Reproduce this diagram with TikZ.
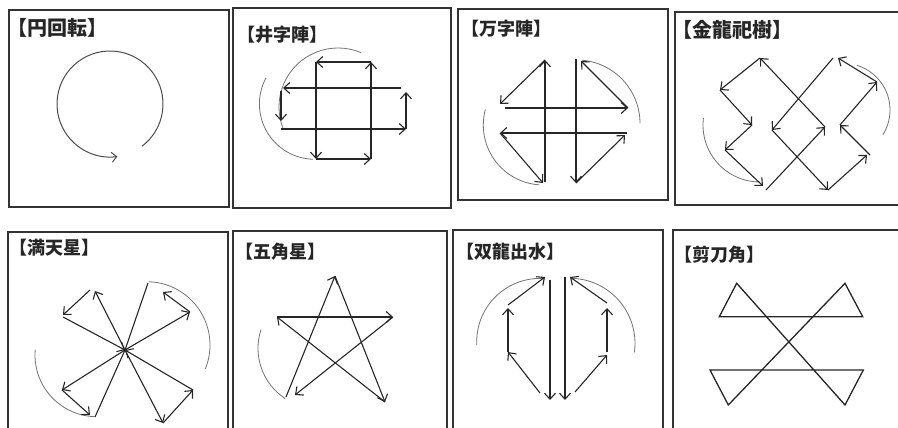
\documentclass[tikz,border=0pt]{standalone}
\usepackage{fontspec}
\newfontfamily\jpfont{Noto Sans CJK JP}
\usetikzlibrary{arrows.meta}

\begin{document}
\begin{tikzpicture}[
                x=1pt, y=-1pt,
                panel/.style={draw=black!80, line width=1.5pt},
                title/.style={anchor=west, inner sep=0pt, text=black!85,
                    font=\jpfont\bfseries\fontsize{18}{18}\selectfont},
                titlebig/.style={title,
                    font=\jpfont\bfseries\fontsize{20}{20}\selectfont},
                move/.style={line width=1.1pt, draw=black!85,
                    -{Straight Barb[length=6pt,width=11pt]}},
                turn/.style={draw=black!55, line width=0.8pt},
                cut/.style={line width=1.3pt, draw=black!85}
            ]

                \useasboundingbox (0,0) rectangle (898,428);
                \clip (0,0) rectangle (898,428);


                \draw[panel] (9,10) rectangle (229,207);
                \draw[panel] (233,8) rectangle (451,208);
                \draw[panel] (458,9) rectangle (668,200);
                \draw[panel] (900,12) -| (675,205) -- (900,205);

                \draw[panel] (8,432) |- (228,232) -- (228,432);
                \draw[panel] (233,432) |- (447,231) -- (447,432);
                \draw[panel] (453,432) |- (663,230) -- (663,432);
                \draw[panel] (673,432) |- (900,230);


                \node[titlebig] (yen) at (7,28) {【円回転】};
                \node[title] (igeta) at (237,35) {【井字陣】};
                \node[title] (manji) at (461,29) {【万字陣】};
                \node[titlebig] (kinryu) at (672,30) {【金龍祀樹】};
                \node[title] (mantenboshi) at (9,248) {【満天星】};
                \node[title] (gokaku) at (235,252) {【五角星】};
                \node[title] (soryu) at (456,252) {【双龍出水】};
                \node[title] (sento) at (674,255) {【剪刀角】};


                \draw[turn, draw=black!70, line width=1pt,
                    -{Straight Barb[length=5pt,width=10pt]}]
                    (110,104) ++(53:53) arc[start angle=53, end angle=-278, radius=53];


                \coordinate (a1) at (371,62);
                \coordinate (a2) at (316,62);
                \coordinate (a3) at (316,159);
                \coordinate (a4) at (371,159);
                \coordinate (b1) at (401,88);
                \coordinate (b2) at (283,88);
                \coordinate (b3) at (281,91);
                \coordinate (b4) at (281,121);
                \coordinate (b5) at (281,129);
                \coordinate (b6) at (406,129);
                \coordinate (b7) at (406,92);

                \draw[turn] (338,107) ++(-67:59) arc[start angle=-67, end angle=-201, radius=59];
                \draw[turn] (314.7,104) ++(-152:55.3) arc[start angle=-152, end angle=-268, radius=55.3];

                \draw[move] (a1) -- (a2);
                \draw[move] (a2) -- (a3);
                \draw[move] (a3) -- (a4);
                \draw[move] (a4) -- (a1);
                \draw[move] (b1) -- (b2);
                \draw[move] (b3) -- (b4);
                \draw[move] (b5) -- (b6);
                \draw[move] (b6) -- (b7);


                \coordinate (c1) at (545,60);
                \coordinate (c2) at (500,104);
                \coordinate (c3) at (505,108);
                \coordinate (c4) at (628,108);
                \coordinate (c5) at (581,61);
                \coordinate (c6) at (576,59);
                \coordinate (c7) at (576,183);
                \coordinate (c8) at (625,135);
                \coordinate (c9) at (627,133);
                \coordinate (c10) at (500,133);
                \coordinate (c11) at (543,183);
                \coordinate (c12) at (545,182);

                \draw[turn] (576.7,123.3) ++(0:63.3) arc[start angle=0, end angle=-85, radius=63.3];
                \draw[turn] (543.3,125) ++(-165:60) arc[start angle=-165, end angle=-266, radius=60];

                \draw[move] (c12) -- (c1);
                \draw[move] (c1) -- (c2);
                \draw[move] (c3) -- (c4);
                \draw[move] (c4) -- (c5);
                \draw[move] (c6) -- (c7);
                \draw[move] (c7) -- (c8);
                \draw[move] (c9) -- (c10);
                \draw[move] (c10) -- (c11);


                \coordinate (d1) at (760,58);
                \coordinate (d2) at (720,90);
                \coordinate (d3) at (752,125);
                \coordinate (d4) at (725,150);
                \coordinate (d5) at (763,186);
                \coordinate (d6) at (766,190);
                \coordinate (d7) at (825,127);
                \coordinate (e1) at (833,58);
                \coordinate (e2) at (772,130);
                \coordinate (e3) at (828,190);
                \coordinate (e4) at (867,155);
                \coordinate (e5) at (870,155);
                \coordinate (e6) at (840,125);
                \coordinate (e7) at (877,82);
                \coordinate (e8) at (838,58);

                \draw[turn] (843.3,110) ++(32:46.7) arc[start angle=32, end angle=-73, radius=46.7];
                \draw[turn] (760,125) ++(-173:57) arc[start angle=-173, end angle=-270, radius=57];

                \draw[move] (d7) -- (d1);
                \draw[move] (d1) -- (d2);
                \draw[move] (d2) -- (d3);
                \draw[move] (d3) -- (d4);
                \draw[move] (d4) -- (d5);
                \draw[move] (d6) -- (d7);
                \draw[move] (e1) -- (e2);
                \draw[move] (e2) -- (e3);
                \draw[move] (e3) -- (e4);
                \draw[move] (e5) -- (e6);
                \draw[move] (e6) -- (e7);
                \draw[move] (e7) -- (e8);


                \coordinate (o) at (125,350);
                \coordinate (f1) at (95,291);
                \coordinate (f2) at (90,290);
                \coordinate (f3) at (63,315);
                \coordinate (f4) at (63,317);
                \coordinate (g1) at (148,283);
                \coordinate (g2) at (190,312);
                \coordinate (g3) at (163,292);
                \coordinate (h1) at (163,423);
                \coordinate (h2) at (193,390);
                \coordinate (k1) at (62,390);
                \coordinate (k2) at (90,415);
                \coordinate (k3) at (95,417);

                \draw[turn] (146.7,345) ++(-88:63.3) arc[start angle=-88, end angle=22, radius=63.3];
                \draw[turn] (96.7,355) ++(-175:61.7) arc[start angle=-175, end angle=-268, radius=61.7];

                \draw[move] (o) -- (f1);
                \draw[move] (f2) -- (f3);
                \draw[move] (f4) -- (o);
                \draw[move] (o) -- (g2);
                \draw[move] (g2) -- (g3);
                \draw[cut, line width=1.1pt] (g1) -- (o);
                \draw[move] (o) -- (h1);
                \draw[move] (h1) -- (h2);
                \draw[move] (h2) -- (o);
                \draw[move] (o) -- (k1);
                \draw[move] (k1) -- (k2);
                \draw[cut, line width=1.1pt] (k3) -- (o);


                \coordinate (s0) at (286,397);
                \coordinate (s1) at (335,276);
                \coordinate (s2) at (385,402);
                \coordinate (s3) at (277,317);
                \coordinate (s4) at (393,317);
                \coordinate (s5) at (295,395);

                \draw[turn] (318,348.3) ++(-162:60) arc[start angle=-162, end angle=-237, radius=60];

                \draw[move] (s0) -- (s1);
                \draw[move] (s1) -- (s2);
                \draw[move] (s2) -- (s3);
                \draw[move] (s3) -- (s4);
                \draw[move] (s4) -- (s5);


                \coordinate (t1) at (540,393);
                \coordinate (t2) at (508,352);
                \coordinate (t3) at (508,308);
                \coordinate (t4) at (508,305);
                \coordinate (t5) at (545,277);
                \coordinate (t6) at (550,280);
                \coordinate (t7) at (550,400);
                \coordinate (u1) at (575,392);
                \coordinate (u2) at (607,355);
                \coordinate (u3) at (607,352);
                \coordinate (u4) at (607,308);
                \coordinate (u5) at (607,303);
                \coordinate (u6) at (570,277);
                \coordinate (u7) at (565,277);
                \coordinate (u8) at (565,400);

                \draw[turn] (540,341.7) ++(-87:63.3) arc[start angle=-87, end angle=-183, radius=63.3];
                \draw[turn] (570,343.3) ++(-89:65) arc[start angle=-89, end angle=8, radius=65];

                \draw[move] (t1) -- (t2);
                \draw[move] (t2) -- (t3);
                \draw[move] (t4) -- (t5);
                \draw[move] (t6) -- (t7);
                \draw[move] (u1) -- (u2);
                \draw[move] (u3) -- (u4);
                \draw[move] (u5) -- (u6);
                \draw[move] (u7) -- (u8);


                \coordinate (w1) at (736.7,283.3);
                \coordinate (w2) at (719.3,316.7);
                \coordinate (w3) at (862.7,316.7);
                \coordinate (w4) at (845,283.3);
                \coordinate (w5) at (728.3,405);
                \coordinate (w6) at (710,370);
                \coordinate (w7) at (863.3,370);
                \coordinate (w8) at (845,405);

                \draw[cut] (w1) -- (w2) -- (w3) -- (w4) -- (w5) -- (w6) -- (w7) -- (w8) -- cycle;

            \end{tikzpicture}
\end{document}
